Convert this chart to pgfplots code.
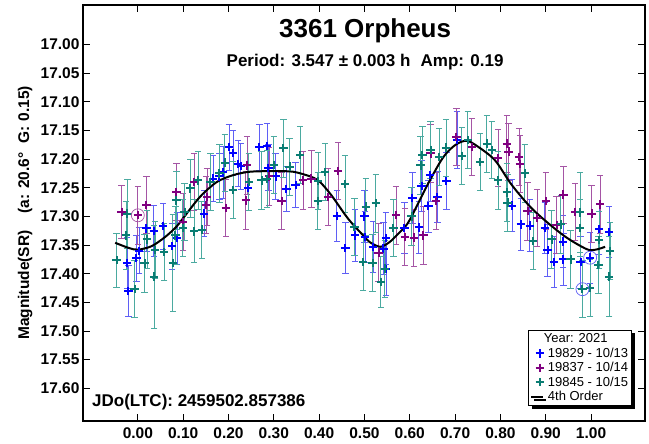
\documentclass[border=0pt]{standalone}
\usepackage{fontspec}
\setmainfont{Liberation Sans}
\usepackage{pgfplots}
\pgfplotsset{compat=1.18}
\usepackage{pgfplotstable}
\usetikzlibrary{shadows}
\definecolor{cBlue}{RGB}{0,0,255}
\definecolor{cBlueL}{RGB}{95,95,245}
\definecolor{cPur}{RGB}{128,0,128}
\definecolor{cPurL}{RGB}{165,85,165}
\definecolor{cTeal}{RGB}{10,125,115}
\definecolor{cTealL}{RGB}{75,170,160}

\pgfplotstableread{
x y e
-0.024 17.381 0.045
-0.021 17.430 0.045
-0.003 17.373 0.040
0.003 17.360 0.040
0.019 17.321 0.040
0.035 17.325 0.045
0.056 17.317 0.040
0.076 17.352 0.040
0.087 17.338 0.045
0.146 17.295 0.040
0.166 17.234 0.040
0.180 17.230 0.040
0.188 17.223 0.045
0.201 17.179 0.040
0.210 17.189 0.040
0.221 17.208 0.040
0.227 17.212 0.040
0.243 17.250 0.040
0.268 17.179 0.040
0.285 17.177 0.040
0.288 17.215 0.040
0.304 17.230 0.040
0.328 17.252 0.040
0.348 17.245 0.040
0.439 17.299 0.045
0.458 17.355 0.045
0.479 17.333 0.045
0.500 17.300 0.045
0.501 17.336 0.045
0.519 17.353 0.045
0.542 17.356 0.045
0.547 17.338 0.045
0.548 17.392 0.045
0.588 17.320 0.045
0.606 17.268 0.045
0.620 17.319 0.045
0.626 17.247 0.045
0.641 17.282 0.045
0.645 17.228 0.045
0.661 17.266 0.045
0.681 17.238 0.050
0.704 17.167 0.050
0.826 17.281 0.045
0.845 17.314 0.045
0.865 17.316 0.045
0.898 17.320 0.045
0.904 17.359 0.045
0.918 17.379 0.045
0.938 17.344 0.045
0.939 17.375 0.045
0.977 17.380 0.045
0.998 17.372 0.045
1.018 17.322 0.045
1.040 17.327 0.045
}\blue

\pgfplotstableread{
x y e
-0.036 17.292 0.047
0.000 17.298 0.050
0.019 17.280 0.050
0.085 17.257 0.050
0.100 17.310 0.050
0.124 17.240 0.050
0.151 17.280 0.050
0.153 17.266 0.050
0.194 17.285 0.050
0.238 17.272 0.050
0.241 17.211 0.050
0.290 17.230 0.050
0.317 17.273 0.050
0.365 17.237 0.050
0.383 17.234 0.050
0.420 17.266 0.050
0.442 17.221 0.050
0.531 17.363 0.050
0.570 17.298 0.050
0.589 17.336 0.050
0.609 17.337 0.050
0.630 17.333 0.050
0.646 17.190 0.050
0.658 17.273 0.050
0.703 17.161 0.050
0.737 17.179 0.050
0.795 17.198 0.050
0.814 17.173 0.050
0.818 17.187 0.050
0.841 17.196 0.050
0.843 17.208 0.050
0.860 17.291 0.050
0.881 17.303 0.050
0.900 17.273 0.050
0.924 17.315 0.050
0.939 17.262 0.050
0.965 17.292 0.050
1.001 17.295 0.050
1.020 17.279 0.050
}\purple

\pgfplotstableread{
x y e
-0.047 17.376 0.047
-0.026 17.333 0.060
-0.023 17.295 0.060
-0.007 17.427 0.050
0.015 17.382 0.050
0.020 17.340 0.050
0.036 17.405 0.090
0.038 17.359 0.050
0.058 17.362 0.050
0.077 17.381 0.085
0.085 17.272 0.050
0.083 17.333 0.050
0.099 17.320 0.050
0.103 17.292 0.050
0.116 17.251 0.050
0.124 17.326 0.055
0.133 17.237 0.050
0.141 17.323 0.050
0.160 17.240 0.050
0.180 17.225 0.050
0.192 17.206 0.050
0.210 17.254 0.050
0.245 17.240 0.050
0.273 17.237 0.050
0.285 17.235 0.050
0.300 17.210 0.050
0.321 17.181 0.050
0.335 17.213 0.050
0.358 17.193 0.050
0.397 17.273 0.050
0.398 17.238 0.050
0.413 17.222 0.050
0.457 17.243 0.050
0.478 17.318 0.050
0.497 17.379 0.050
0.503 17.283 0.050
0.518 17.381 0.050
0.525 17.277 0.050
0.536 17.414 0.045
0.545 17.391 0.050
0.564 17.320 0.050
0.604 17.300 0.050
0.624 17.211 0.050
0.628 17.193 0.050
0.646 17.184 0.050
0.665 17.196 0.050
0.680 17.180 0.050
0.715 17.194 0.050
0.728 17.167 0.050
0.755 17.205 0.050
0.770 17.173 0.050
0.781 17.184 0.050
0.795 17.237 0.050
0.814 17.258 0.050
0.816 17.276 0.050
0.854 17.225 0.050
0.872 17.343 0.050
0.913 17.340 0.050
0.933 17.314 0.050
0.955 17.375 0.050
0.976 17.293 0.070
0.976 17.320 0.050
0.981 17.427 0.050
0.998 17.425 0.050
1.016 17.385 0.050
1.018 17.341 0.050
1.042 17.360 0.050
1.040 17.405 0.070
}\teal

\pgfplotstableread{
x y
-0.050 17.346
-0.020 17.355
0.000 17.358
0.030 17.352
0.060 17.336
0.085 17.318
0.100 17.303
0.137 17.266
0.174 17.240
0.210 17.228
0.247 17.222
0.300 17.221
0.343 17.222
0.383 17.231
0.402 17.240
0.427 17.263
0.464 17.304
0.497 17.333
0.512 17.345
0.535 17.353
0.555 17.345
0.571 17.333
0.586 17.321
0.600 17.306
0.637 17.248
0.667 17.205
0.685 17.186
0.705 17.173
0.726 17.168
0.750 17.178
0.788 17.202
0.825 17.245
0.873 17.289
0.939 17.333
0.990 17.357
1.010 17.358
1.031 17.353
}\fit

\begin{document}
\begin{tikzpicture}
\begin{axis}[
  scale only axis,
  width=562pt, height=416pt,
  xmin=-0.121, xmax=1.119,
  ymin=16.931, ymax=17.657,
  y dir=reverse,
  xtick={0,0.1,...,1.001},
  ytick={17.00,17.05,...,17.61},
  tick pos=both,
  tick align=inside,
  major tick length=7pt,
  axis line style={line width=1.4pt},
  tick style={line width=0.9pt, black},
  /pgf/number format/.cd, fixed, fixed zerofill, precision=2, assume math mode=true,
  /pgfplots/.cd,
  tick label style={font=\bfseries\fontsize{15.5}{16}\selectfont},
  xticklabel style={yshift=-3pt},
  ylabel={Magnitude(SR)\hspace{1.1em}(a: 20.6°\hspace{0.6em}G: 0.15)},
  every axis y label/.style={at={(axis description cs:-0.103,0.5)}, rotate=90, anchor=center,
     font=\bfseries\fontsize{15.5}{16}\selectfont},
  legend style={at={(axis description cs:0.977,0.036)}, anchor=south east,
     font=\fontsize{13}{14}\selectfont, draw=black, line width=0.8pt,
     drop shadow={shadow xshift=3pt, shadow yshift=-3pt, fill=black, opacity=1},
     fill=white, inner xsep=1.5pt, inner ysep=1.5pt, row sep=-0.5pt,
     /tikz/every odd column/.append style={column sep=2pt}},
  legend cell align=left,
  clip=false,
]
\addlegendimage{empty legend}
\addlegendentry{\hspace{-4pt}Year: 2021}

\addplot[only marks, mark=+, mark size=4.2pt, line width=2pt, color=cBlue,
  error bars/.cd, y dir=both, y explicit,
  error bar style={line width=0.8pt, cBlueL},
  error mark options={rotate=90, mark size=3.2pt, line width=0.8pt, cBlueL}]
  table[x=x, y=y, y error=e] {\blue};
\addlegendentry{19829 - 10/13}

\addplot[only marks, mark=+, mark size=4.2pt, line width=2pt, color=cPur,
  error bars/.cd, y dir=both, y explicit,
  error bar style={line width=0.8pt, cPurL},
  error mark options={rotate=90, mark size=3.2pt, line width=0.8pt, cPurL}]
  table[x=x, y=y, y error=e] {\purple};
\addlegendentry{19837 - 10/14}

\addplot[only marks, mark=+, mark size=4.2pt, line width=2pt, color=cTeal,
  error bars/.cd, y dir=both, y explicit,
  error bar style={line width=0.8pt, cTealL},
  error mark options={rotate=90, mark size=3.2pt, line width=0.8pt, cTealL}]
  table[x=x, y=y, y error=e] {\teal};
\addlegendentry{19845 - 10/15}

\addplot[black, line width=2pt, smooth, no marks,
  legend image code/.code={\draw[black, line width=1.8pt] (0cm,0cm) -- (0.4cm,0cm);}]
  table[x=x, y=y] {\fit};
\addlegendentry{4th Order}

\addplot[only marks, mark=o, mark size=6.5pt, line width=0.7pt, color=cPurL, forget plot]
  coordinates {(0.000,17.298)};
\addplot[only marks, mark=o, mark size=6.5pt, line width=0.7pt, color=cBlueL, forget plot]
  coordinates {(0.981,17.427) (0.998,17.372)};

\node[anchor=base, font=\bfseries\fontsize{26}{28}\selectfont] at (axis description cs:0.502,0.921) {3361 Orpheus};
\node[anchor=base, font=\bfseries\fontsize{17}{18}\selectfont] at (axis description cs:0.502,0.851) {Period: 3.547 ± 0.003 h\hspace{0.6em}Amp: 0.19};
\node[anchor=base west, inner sep=0pt, font=\bfseries\fontsize{17}{18}\selectfont] at (axis description cs:0.016,0.034) {JDo(LTC): 2459502.857386};
\end{axis}
\pgfresetboundingbox
\path ([shift={(-83pt,-23pt)}]current axis.south west) rectangle ([shift={(4pt,5pt)}]current axis.north east);
\end{tikzpicture}
\end{document}
